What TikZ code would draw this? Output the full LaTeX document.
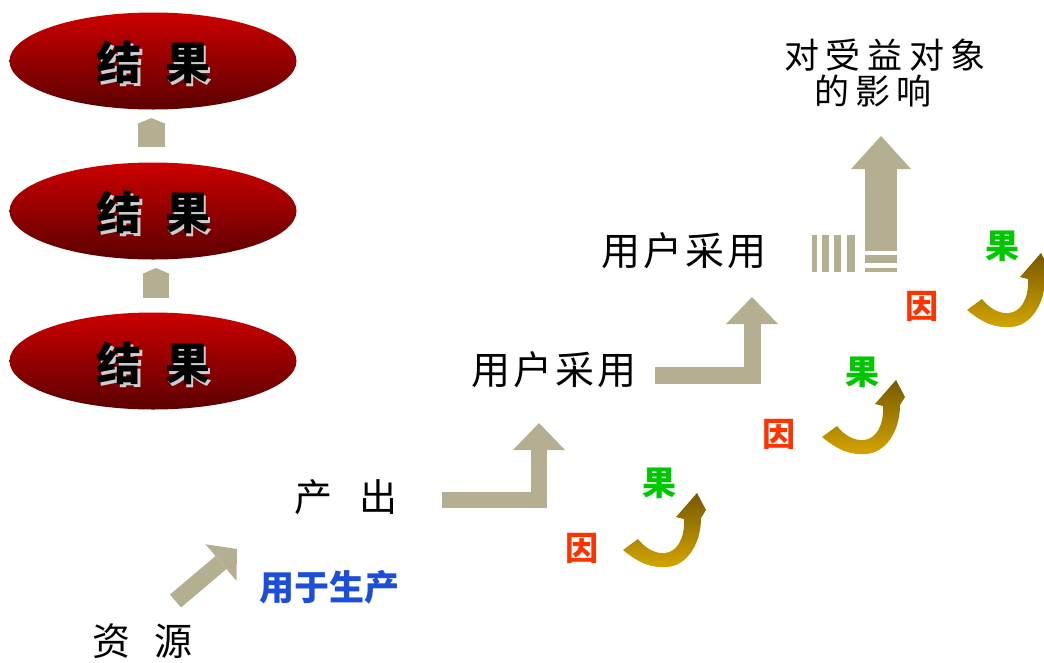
\documentclass[tikz,border=0pt]{standalone}
\usepackage{fontspec}
\setmainfont{Noto Sans CJK SC}
\usetikzlibrary{arrows.meta,shapes.geometric}
\definecolor{tan}{RGB}{181,175,145}
\definecolor{redtop}{RGB}{204,0,0}
\definecolor{redmid}{RGB}{160,0,0}
\definecolor{redbot}{RGB}{92,0,0}
\definecolor{yinred}{RGB}{255,51,0}
\definecolor{guogreen}{RGB}{0,200,0}
\definecolor{useblue}{RGB}{28,78,216}
\definecolor{goldA}{RGB}{212,166,0}
\definecolor{goldB}{RGB}{118,88,0}
\definecolor{shadowgrey}{RGB}{205,205,205}
\newcommand\fs[1]{\fontsize{#1}{#1}\selectfont}
\newcommand\restext{结\hspace{24pt}果}
\newcommand\shadowed[1]{\makebox[0pt][l]{\hspace{2.5pt}\raisebox{-2.5pt}{\color{shadowgrey}#1}}#1}
\tikzset{
  ell/.style={ellipse, minimum width=287, minimum height=97, inner sep=0,
    top color=redtop, middle color=redmid, bottom color=redbot, draw=none},
  restxt/.style={inner sep=0, font=\fs{45}\bfseries, text=black},
  lbl/.style={inner sep=0, font=\fs{38}, text=black},
  yin/.style={inner sep=0, font=\fs{33}\bfseries, text=yinred},
  guo/.style={inner sep=0, font=\fs{34}\bfseries, text=guogreen},
  blk/.style={draw=tan, line join=miter},
}
\newcommand\curvearrow{%
  \shade[top color=goldB, middle color=goldA, bottom color=goldA]
    (623,550) .. controls (640,564) and (652,568) .. (667,567)
    .. controls (686,566) and (701,545) .. (701,518)
    -- (706,510) -- (697,493) -- (676,517) -- (684,519)
    .. controls (685,540) and (676,552) .. (665,553)
    .. controls (655,554) and (645,548) .. (638,539) -- cycle;}
\begin{document}
\begin{tikzpicture}[x=1pt,y=-1pt]
\useasboundingbox (0,0) rectangle (1044,662);
\clip (0,0) rectangle (1044,662);
% ellipses
\node[ell] (e1) at (153,61) {};
\node[ell] (e2) at (153,211) {};
\node[ell] (e3) at (153,361) {};
\node[restxt] (t1) at (153.5,64) {\shadowed{\restext}};
\node[restxt] (t2) at (153.5,214) {\shadowed{\restext}};
\node[restxt] (t3) at (153.5,365) {\shadowed{\restext}};
% small arrows between ellipses
\coordinate (s1a) at (151.5,147); \coordinate (s1b) at (151.5,118);
\coordinate (s2a) at (156,298);   \coordinate (s2b) at (156,268);
\draw[blk, line width=27, -{Triangle[width=29,length=6,line width=0pt]}] (s1a) -- (s1b);
\draw[blk, line width=26, -{Triangle[width=28,length=6,line width=0pt]}] (s2a) -- (s2b);
% labels
\node[lbl] (res) at (142.5,641) {资\hspace{25pt}源};
\node[lbl] (out) at (346,497) {产\hspace{28pt}出};
\node[inner sep=0, font=\fs{35}\bfseries, text=useblue] (use) at (329,587) {用于生产};
\node[lbl, font=\fs{39}] (ua1) at (554,370) {用\hspace{3pt}户\hspace{3pt}采\hspace{3pt}用};
\node[lbl, font=\fs{39}] (ua2) at (684,251) {用\hspace{3pt}户\hspace{3pt}采\hspace{3pt}用};
\node[lbl, font=\fs{35}] (imp1) at (885,55) {对\hspace{6.5pt}受\hspace{6.5pt}益\hspace{6.5pt}对\hspace{6.5pt}象};
\node[lbl, font=\fs{35}] (imp2) at (873,91) {的\hspace{6.5pt}影\hspace{6.5pt}响};
% diagonal arrow
\coordinate (d0) at (175.5,601); \coordinate (d1) at (237,549);
\draw[blk, line width=17, -{Triangle[width=48,length=21,line width=0pt]}] (d0) -- (d1);
% L arrows
\coordinate (l1a) at (442,500); \coordinate (l1b) at (539,500); \coordinate (l1c) at (539,423);
\draw[blk, line width=16, -{Triangle[width=52,length=27,line width=0pt]}] (l1a) -- (l1b) -- (l1c);
\coordinate (l2a) at (655,375); \coordinate (l2b) at (752,375); \coordinate (l2c) at (752,297);
\draw[blk, line width=17, -{Triangle[width=52,length=27,line width=0pt]}] (l2a) -- (l2b) -- (l2c);
% big arrow
\coordinate (b0) at (881,251); \coordinate (b1) at (881,136);
\draw[blk, line width=32, -{Triangle[width=60,length=33,line width=0pt]}] (b0) -- (b1);
\fill[tan] (865,255) rectangle (897,263);
\fill[tan] (865,268) rectangle (897,272);
\foreach \a/\b in {812/817,822/829,834/841,847/855}
  \fill[tan] (\a,235) rectangle (\b,272);
% cause-effect curved arrows
\curvearrow
\begin{scope}[shift={(199,-113)}] \curvearrow \end{scope}
\begin{scope}[shift={(344,-240)}] \curvearrow \end{scope}
\node[yin] (y1) at (582,548) {因};
\node[guo] (g1) at (659,483) {果};
\node[yin] (y2) at (779,434) {因};
\node[guo] (g2) at (862,372) {果};
\node[yin] (y3) at (922,306) {因};
\node[guo] (g3) at (1002,246) {果};
\end{tikzpicture}
\end{document}
